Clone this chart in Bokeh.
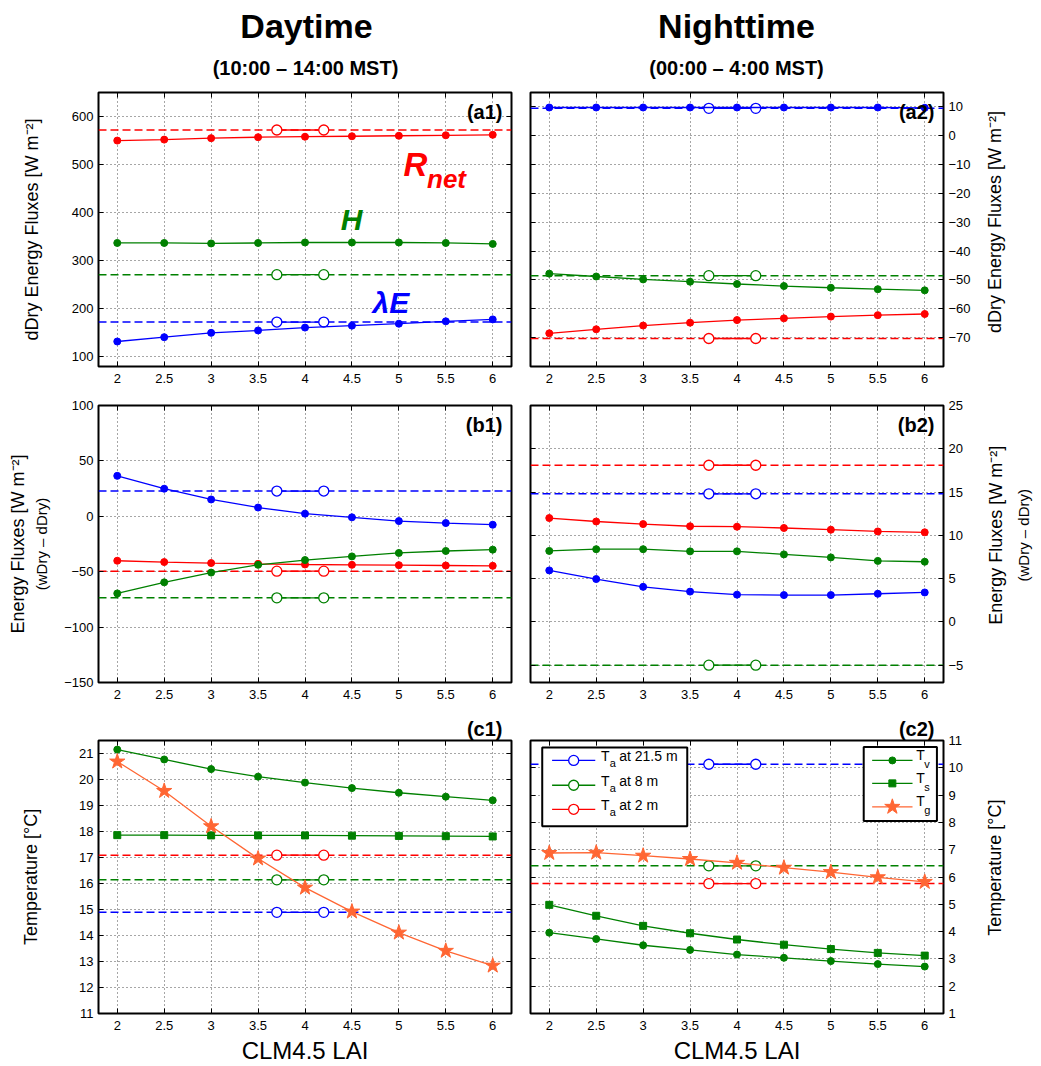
import math
from bokeh.plotting import figure
from bokeh.layouts import column, row
from bokeh.models import Range1d, FixedTicker, LinearAxis, Span, Label, Title, CustomJSTickFormatter
from bokeh.core.properties import value
from bokeh.embed import file_html
from bokeh.resources import INLINE

# ---------------- data ----------------
lai = [2, 2.5, 3, 3.5, 4, 4.5, 5, 5.5, 6]
obs_lai = [3.7, 4.2]
x_ticks = [2, 2.5, 3, 3.5, 4, 4.5, 5, 5.5, 6]
x_tick_labels = ["2", "2.5", "3", "3.5", "4", "4.5", "5", "5.5", "6"]

# (a1) daytime dDry fluxes
a1_rnet = [550, 552, 555, 557, 558, 559, 560, 561, 562]
a1_h = [337, 337, 336, 337, 338, 338, 338, 337, 335]
a1_le = [132, 141, 150, 155, 161, 165, 169, 174, 178]
a1_obs_rnet, a1_obs_h, a1_obs_le = 572, 271, 172.5
a1_yticks = [100, 200, 300, 400, 500, 600]
a1_ylabels = ["100", "200", "300", "400", "500", "600"]

# (a2) nighttime dDry fluxes
a2_rnet = [-68.5, -67.1, -65.8, -64.8, -63.9, -63.3, -62.7, -62.2, -61.8]
a2_h = [-47.8, -48.8, -49.8, -50.6, -51.4, -52.1, -52.7, -53.2, -53.6]
a2_le = [9.8, 9.8, 9.8, 9.8, 9.8, 9.8, 9.8, 9.8, 9.7]
a2_obs_rnet, a2_obs_h, a2_obs_le = -70.3, -48.5, 9.5
a2_yticks = [-70, -60, -50, -40, -30, -20, -10, 0, 10]
a2_ylabels = ["\u221270", "\u221260", "\u221250", "\u221240", "\u221230", "\u221220", "\u221210", "0", "10"]

# (b1) daytime wDry - dDry
b1_rnet = [-40.1, -41.3, -42.2, -42.9, -43.5, -43.8, -44.1, -44.4, -44.7]
b1_h = [-69.6, -59.6, -50.8, -43.8, -39.5, -36.2, -33.1, -31.3, -30.1]
b1_le = [36.5, 24.9, 15.2, 7.9, 2.4, -0.9, -4.3, -6.1, -7.6]
b1_obs_rnet, b1_obs_h, b1_obs_le = -49.5, -73.6, 22.8
b1_yticks = [-150, -100, -50, 0, 50, 100]
b1_ylabels = ["\u2212150", "\u2212100", "\u221250", "0", "50", "100"]

# (b2) nighttime wDry - dDry
b2_rnet = [12.0, 11.6, 11.3, 11.05, 11.0, 10.85, 10.65, 10.45, 10.35]
b2_h = [8.2, 8.4, 8.4, 8.15, 8.15, 7.8, 7.45, 7.05, 6.95]
b2_le = [5.95, 4.95, 4.05, 3.5, 3.15, 3.1, 3.1, 3.25, 3.4]
b2_obs_rnet, b2_obs_h, b2_obs_le = 18.1, -5.0, 14.8
b2_yticks = [-5, 0, 5, 10, 15, 20, 25]
b2_ylabels = ["\u22125", "0", "5", "10", "15", "20", "25"]

# (c1) daytime temperatures
c1_tv = [21.15, 20.77, 20.4, 20.11, 19.88, 19.67, 19.49, 19.34, 19.2]
c1_ts = [17.86, 17.86, 17.85, 17.85, 17.85, 17.84, 17.83, 17.82, 17.81]
c1_tg = [20.69, 19.56, 18.2, 16.96, 15.84, 14.92, 14.11, 13.41, 12.84]
c1_obs_ta215, c1_obs_ta8, c1_obs_ta2 = 14.89, 16.14, 17.09
c1_yticks = [11, 12, 13, 14, 15, 16, 17, 18, 19, 20, 21]
c1_ylabels = ["11", "12", "13", "14", "15", "16", "17", "18", "19", "20", "21"]

# (c2) nighttime temperatures
c2_tv = [3.96, 3.73, 3.5, 3.33, 3.16, 3.04, 2.92, 2.81, 2.72]
c2_ts = [4.98, 4.58, 4.21, 3.94, 3.71, 3.52, 3.36, 3.22, 3.12]
c2_tg = [6.88, 6.89, 6.78, 6.66, 6.52, 6.34, 6.18, 5.99, 5.82]
c2_obs_ta215, c2_obs_ta8, c2_obs_ta2 = 10.13, 6.41, 5.76
c2_yticks = [1, 2, 3, 4, 5, 6, 7, 8, 9, 10, 11]
c2_ylabels = ["1", "2", "3", "4", "5", "6", "7", "8", "9", "10", "11"]

# ---------------- style ----------------
FONT = "Liberation Sans"
RED = "#FF0000"
GREEN = "#008000"
BLUE = "#0000FF"
ORANGE = "#FF6633"
XR = (1.8, 6.2)


def fmt(ticks, labels):
    return CustomJSTickFormatter(
        args=dict(keys=[str(t) for t in ticks], labels=labels),
        code="const i = keys.indexOf(String(tick)); return i >= 0 ? labels[i] : '';")


def style_axis(ax, ticks, labels, label="", size="18px", standoff=10, lstandoff=5):
    ax.ticker = FixedTicker(ticks=ticks)
    ax.formatter = fmt(ticks, labels)
    ax.major_tick_in = 5
    ax.major_tick_out = 0
    ax.major_tick_line_color = "black"
    ax.minor_tick_line_color = None
    ax.axis_line_color = None
    ax.major_label_text_font = FONT
    ax.major_label_text_font_size = "13px"
    ax.major_label_text_color = "black"
    ax.major_label_standoff = lstandoff
    ax.axis_label = label
    ax.axis_label_text_font = FONT
    ax.axis_label_text_font_size = size
    ax.axis_label_text_font_style = "normal"
    ax.axis_label_text_color = "black"
    ax.axis_label_standoff = standoff


def tick_axis(ticks):
    return LinearAxis(ticker=FixedTicker(ticks=ticks), formatter=CustomJSTickFormatter(code="return '';"),
                      major_tick_in=5, major_tick_out=0, minor_tick_line_color=None,
                      axis_line_color=None, major_label_standoff=0, major_tick_line_color="black",
                      major_label_text_font_size="1px")


def make_fig(w, h, borders, yr, yticks, ylabels, side, ylabel, ystand, xlabel=None):
    p = figure(width=w, height=h, x_range=Range1d(*XR), y_range=Range1d(*yr),
               output_backend="svg", toolbar_location=None, y_axis_location=side, title=None,
               min_border_left=borders[0], min_border_right=borders[1],
               min_border_top=borders[2], min_border_bottom=borders[3])
    p.outline_line_color = "black"
    p.outline_line_width = 2
    p.outline_line_alpha = 1
    p.background_fill_color = "white"
    p.border_fill_color = "white"
    style_axis(p.xaxis[0], x_ticks, x_tick_labels, label=xlabel or "", size="24px", standoff=4, lstandoff=7)
    style_axis(p.yaxis[0], yticks, ylabels, label=ylabel, size="18px", standoff=ystand, lstandoff=5)
    p.xgrid.ticker = FixedTicker(ticks=x_ticks)
    p.ygrid.ticker = FixedTicker(ticks=yticks)
    for g in (p.xgrid[0], p.ygrid[0]):
        g.grid_line_color = "#222222"
        g.grid_line_dash = "1 3"
        g.grid_line_width = 1
        g.grid_line_alpha = 0.8
    p.add_layout(tick_axis(x_ticks), "above")
    p.add_layout(tick_axis(yticks), "left" if side == "right" else "right")
    return p


def text_fig(w, h, items):
    """Figure used only to carry free text (headers, rotated right-hand axis titles)."""
    p = figure(width=w, height=h, x_range=Range1d(0, w), y_range=Range1d(0, h),
               output_backend="svg", toolbar_location=None, title=None,
               x_axis_location=None, y_axis_location=None, min_border=0)
    p.outline_line_color = None
    p.grid.visible = False
    p.background_fill_color = "white"
    p.border_fill_color = "white"
    for txt, x, y, size, angle, style in items:
        p.text([x], [y], text=[txt], angle=angle, text_align="center", text_baseline="middle",
               text_font=value(FONT), text_font_size=value(size), text_font_style=style,
               text_color="black")
    return p


def series(p, y, color, marker="circle", size=7):
    p.line(lai, y, line_color=color, line_width=1.3)
    p.scatter(lai, y, marker=marker, size=size, fill_color=color, line_color=color)


def obs(p, v, color):
    p.add_layout(Span(location=v, dimension="width", line_color=color, line_dash="8 4",
                      line_width=1.5, level="underlay"))
    p.line(obs_lai, [v, v], line_color=color, line_width=1.3)
    p.scatter(obs_lai, [v, v], marker="circle", size=10, fill_color="white",
              line_color=color, line_width=1.3)


def panel_label(p, text, y):
    p.add_layout(Label(x=XR[1], y=y, text=text, text_align="right", text_baseline="top",
                       x_offset=-9, y_offset=-8,
                       text_font=FONT, text_font_size="20px", text_font_style="bold",
                       text_color="black"))


def panel_title(p, text):
    p.add_layout(Title(text=text, align="right", offset=9, standoff=1, text_font=FONT,
                       text_font_size="20px", text_font_style="bold", text_color="black"), "above")


W, LW, RW, LABW = 1041, 520, 455, 66
LB = (98, 9)
RB = (10, 32)
FLUX = "dDry Energy Fluxes [W m\u207b\u00b2]"
EFLUX = "Energy Fluxes [W m\u207b\u00b2]"
DIFF = "(wDry \u2013 dDry)"
TEMP = "Temperature [\u00b0C]"
H0, H1, H2, H3 = 80, 315, 317, 354
V = math.pi / 2

# ---- header ----
header = text_fig(W, H0, [
    ("Daytime", 306, H0 - 25, "34px", 0, "bold"),
    ("(10:00 \u2013 14:00 MST)", 305, H0 - 67, "20px", 0, "bold"),
    ("Nighttime", 736, H0 - 25, "34px", 0, "bold"),
    ("(00:00 \u2013 4:00 MST)", 736, H0 - 67, "20px", 0, "bold"),
])

# ---- row 1 ----
a1 = make_fig(LW, H1, (LB[0], LB[1], 12, 29), (80, 650), a1_yticks, a1_ylabels, "left", FLUX, 27)
a2 = make_fig(RW, H1, (RB[0], RB[1], 12, 29), (-80, 15), a2_yticks, a2_ylabels, "right", "", 0)

for p, v in ((a1, (a1_obs_rnet, a1_obs_h, a1_obs_le)), (a2, (a2_obs_rnet, a2_obs_h, a2_obs_le))):
    obs(p, v[0], RED)
    obs(p, v[1], GREEN)
    obs(p, v[2], BLUE)
series(a1, a1_rnet, RED)
series(a1, a1_h, GREEN)
series(a1, a1_le, BLUE)
series(a2, a2_rnet, RED)
series(a2, a2_h, GREEN)
series(a2, a2_le, BLUE)
panel_label(a1, "(a1)", 650)
panel_label(a2, "(a2)", 15)

for txt, x, y, size, col in (("R", 5.05, 479, "33px", RED), ("net", 5.3, 450, "26px", RED),
                             ("H", 4.38, 365, "30px", GREEN), ("\u03bbE", 4.72, 193, "30px", BLUE)):
    a1.add_layout(Label(x=x, y=y, y_offset=10, text=txt, text_font=FONT, text_font_size=size,
                        text_font_style="bold italic", text_color=col, text_baseline="alphabetic"))
a2_lab = text_fig(LABW, H1, [(FLUX, 19, 29 + 274 / 2, "18px", V, "normal")])

# ---- row 2 ----
b1 = make_fig(LW, H2, (LB[0], LB[1], 10, 30), (-150, 100), b1_yticks, b1_ylabels, "left", DIFF, 11)
b1.yaxis[0].axis_label_text_font_size = "15px"
b1.add_layout(LinearAxis(ticker=FixedTicker(ticks=[]), axis_line_color=None, major_tick_line_color=None,
                         minor_tick_line_color=None, major_label_text_font_size="1px",
                         major_label_standoff=0, axis_label=EFLUX, axis_label_text_font=FONT,
                         axis_label_text_font_style="normal", axis_label_text_color="black",
                         axis_label_text_font_size="18px", axis_label_standoff=3), "left")
b2 = make_fig(RW, H2, (RB[0], RB[1], 10, 30), (-7, 25), b2_yticks, b2_ylabels, "right", "", 0)

for p, v in ((b1, (b1_obs_rnet, b1_obs_h, b1_obs_le)), (b2, (b2_obs_rnet, b2_obs_h, b2_obs_le))):
    obs(p, v[0], RED)
    obs(p, v[1], GREEN)
    obs(p, v[2], BLUE)
series(b1, b1_le, BLUE)
series(b1, b1_rnet, RED)
series(b1, b1_h, GREEN)
series(b2, b2_rnet, RED)
series(b2, b2_h, GREEN)
series(b2, b2_le, BLUE)
panel_label(b1, "(b1)", 100)
panel_label(b2, "(b2)", 25)
b2_lab = text_fig(LABW, H2, [(EFLUX, 20, 30 + 277 / 2, "18px", V, "normal"),
                             (DIFF, 48, 30 + 277 / 2, "15px", V, "normal")])

# ---- row 3 ----
c1 = make_fig(LW, H3, (LB[0], LB[1], 28, 52), (11, 21.5), c1_yticks, c1_ylabels, "left", TEMP, 35,
              xlabel="CLM4.5 LAI")
c2 = make_fig(RW, H3, (RB[0], RB[1], 28, 52), (1, 11), c2_yticks, c2_ylabels, "right", "", 0,
              xlabel="CLM4.5 LAI")
panel_title(c1, "(c1)")
panel_title(c2, "(c2)")
for p, v in ((c1, (c1_obs_ta215, c1_obs_ta8, c1_obs_ta2)), (c2, (c2_obs_ta215, c2_obs_ta8, c2_obs_ta2))):
    obs(p, v[0], BLUE)
    obs(p, v[1], GREEN)
    obs(p, v[2], RED)
for p, tv, ts, tg in ((c1, c1_tv, c1_ts, c1_tg), (c2, c2_tv, c2_ts, c2_tg)):
    series(p, tv, GREEN, "circle", 7)
    series(p, ts, GREEN, "square", 7)
    p.line(lai, tg, line_color=ORANGE, line_width=1.3)
    p.scatter(lai, tg, marker="star", size=16, fill_color=ORANGE, line_color=ORANGE)
c2_lab = text_fig(LABW, H3, [(TEMP, 19, 52 + 274 / 2, "18px", V, "normal")])

# ---- legends in (c2) ----
def legend_box(p, l, r, t, b):
    p.quad(left=[l], right=[r], top=[t], bottom=[b], fill_color="white", fill_alpha=1,
           line_color="black", line_width=2, level="overlay")


def legend_text(p, xs, ys, texts, size):
    p.text(xs, ys, text=texts, text_font=value(FONT), text_font_size=value(size),
           text_color="black", text_baseline="middle", text_align="left", level="overlay")


legend_box(c2, 1.925, 3.47, 10.74, 7.86)
rows_l = [10.27, 9.36, 8.48]
for yy, col in zip(rows_l, (BLUE, GREEN, RED)):
    c2.line([2.03, 2.49], [yy, yy], line_color=col, line_width=1.3, level="overlay")
    c2.scatter([2.26], [yy], marker="circle", size=10, fill_color="white", line_color=col,
               line_width=1.3, level="overlay")
legend_text(c2, [2.55] * 3, [y + 0.17 for y in rows_l], ["T"] * 3, "14px")
legend_text(c2, [2.645] * 3, [y - 0.09 for y in rows_l], ["a"] * 3, "11px")
legend_text(c2, [2.745] * 3, [y + 0.17 for y in rows_l], ["at 21.5 m", "at 8 m", "at 2 m"], "14px")

legend_box(c2, 5.35, 6.13, 10.76, 8.05)
rows_r = [10.27, 9.43, 8.57]
for yy, col, mk, sz in zip(rows_r, (GREEN, GREEN, ORANGE), ("circle", "square", "star"), (7, 7, 16)):
    c2.line([5.44, 5.87], [yy, yy], line_color=col, line_width=1.3, level="overlay")
    c2.scatter([5.655], [yy], marker=mk, size=sz, fill_color=col, line_color=col, level="overlay")
legend_text(c2, [5.91] * 3, [y + 0.2 for y in rows_r], ["T"] * 3, "14px")
legend_text(c2, [5.995] * 3, [y - 0.12 for y in rows_r], ["v", "s", "g"], "11px")

layout = column(header, row(a1, a2, a2_lab), row(b1, b2, b2_lab), row(c1, c2, c2_lab))
open("out.html", "w").write(file_html(layout, INLINE))
